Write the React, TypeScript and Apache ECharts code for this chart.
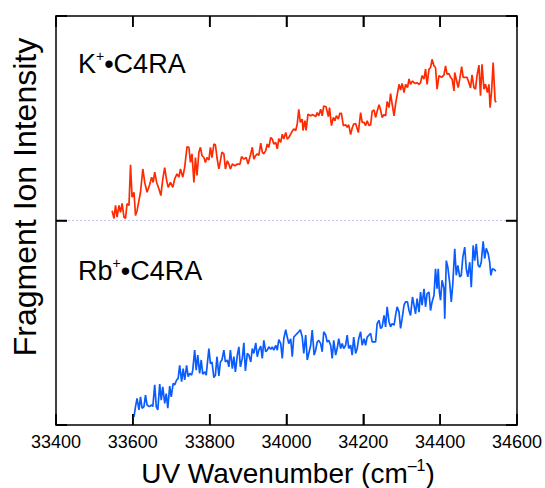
import React, { useEffect, useRef } from "react";
import * as echarts from "echarts";

// X axis range (cm^-1)
const xMin = 33400;
const xMax = 34600;
const xStep = 200;
const xTickValues = [33400, 33600, 33800, 34000, 34200, 34400, 34600];

// Upper trace: K+•C4RA (offset so its baseline sits at 50)
const kWavenumber = [
  33546, 33551, 33555, 33559, 33564, 33568, 33572, 33577, 33581, 33585,
  33590, 33594, 33598, 33603, 33607, 33611, 33616, 33620, 33626, 33631,
  33637, 33643, 33649, 33653, 33657, 33662, 33668, 33673, 33678, 33683,
  33688, 33692, 33698, 33704, 33709, 33715, 33720, 33724, 33730, 33735,
  33741, 33746, 33750, 33754, 33759, 33763, 33767, 33772, 33776, 33780,
  33785, 33789, 33793, 33798, 33802, 33806, 33811, 33815, 33819, 33824,
  33828, 33832, 33837, 33841, 33846, 33850, 33854, 33859, 33866, 33872,
  33879, 33883, 33889, 33895, 33900, 33907, 33911, 33915, 33920, 33924,
  33928, 33933, 33937, 33941, 33946, 33950, 33954, 33959, 33963, 33967,
  33972, 33976, 33980, 33985, 33989, 33993, 33998, 34002, 34006, 34013,
  34019, 34024, 34028,
  34032, 34036, 34041, 34043, 34048, 34051, 34056, 34063, 34069, 34076,
  34080, 34084, 34089, 34093, 34097, 34103, 34109, 34112, 34117, 34122,
  34126, 34130, 34135, 34139, 34143, 34148, 34154, 34158, 34162, 34167,
  34171, 34175, 34180, 34187, 34193, 34197, 34202, 34206, 34210, 34215,
  34219, 34223, 34228, 34232, 34236, 34241, 34245, 34249, 34254, 34258,
  34262, 34267, 34271, 34275, 34280, 34284, 34293, 34297, 34301, 34306,
  34310, 34315, 34319, 34323, 34328, 34332, 34336, 34340, 34345, 34349,
  34353, 34358, 34362, 34366, 34371, 34375, 34379, 34384, 34388, 34392,
  34397, 34404, 34410, 34414, 34418, 34423, 34427, 34431, 34436, 34438,
  34443, 34447, 34451, 34456, 34460, 34466, 34470, 34475, 34479, 34483,
  34488, 34492, 34496, 34501, 34505, 34509, 34514, 34518, 34523, 34527,
  34530, 34534, 34538, 34543, 34546,
];
const kIntensity = [
  52.4, 50.5, 53.7, 50.8, 53.7, 52.0, 54.2, 50.8, 50.5, 54.1,
  53.7, 63.6, 55.7, 56.9, 51.2, 52.4, 54.9, 56.9, 62.6, 59.3,
  56.9, 58.5, 60.6, 59.3, 61.8, 59.3, 57.7, 56.1, 60.2, 62.9,
  59.8, 58.1, 59.3, 58.1, 60.2, 61.4, 60.6, 62.6, 60.6, 63.0,
  68.0, 67.9, 64.2, 66.3, 59.3, 65.4, 61.0, 66.7, 67.9, 65.9,
  65.4, 64.2, 65.4, 64.8, 67.9, 65.4, 68.7, 68.5, 65.4, 62.6,
  64.6, 66.7, 66.3, 62.6, 64.6, 63.8, 62.6, 63.8, 63.4, 63.8,
  63.8, 65.6, 65.0, 65.4, 63.8, 66.3, 67.9, 65.0, 65.9, 66.3,
  65.9, 68.9, 66.7, 66.3, 67.1, 68.7, 67.9, 70.3, 69.9, 68.7,
  69.1, 67.5, 70.0, 69.1, 71.1, 69.9, 71.5, 69.9, 70.3, 71.5,
  72.4, 72.0, 73.6,
  77.2, 74.0, 74.8, 72.0, 74.4, 72.0, 76.0, 75.6, 75.9, 75.4,
  76.4, 75.6, 77.2, 75.6, 78.0, 77.8, 75.4, 77.6, 73.2, 75.2,
  74.4, 75.6, 74.8, 76.2, 76.2, 73.2, 73.4, 72.8, 73.4, 71.0,
  72.6, 73.6, 73.7, 71.5, 76.4, 74.0, 74.0, 73.2, 74.4, 73.2,
  73.4, 76.7, 77.0, 75.2, 76.7, 78.3, 77.0, 75.2, 75.9, 75.6,
  79.1, 77.6, 81.0, 78.5, 75.6, 78.5, 83.3, 81.9, 83.5, 81.3,
  83.3, 82.5, 84.6, 83.3, 84.1, 83.7, 83.5, 83.7, 83.3, 83.7,
  85.4, 84.6, 87.0, 83.3, 87.0, 87.4, 89.4, 87.8, 87.4, 82.1,
  85.4, 85.0, 85.6, 87.8, 85.8, 85.9, 85.0, 84.6, 81.7, 86.2,
  84.1, 82.5, 84.6, 87.6, 85.0, 85.0, 85.0, 83.7, 82.4, 85.6,
  82.5, 82.1, 85.4, 88.0, 80.5, 88.2, 82.1, 83.3, 81.3, 83.3,
  77.6, 81.7, 88.6, 79.3, 78.9,
];

// Lower trace: Rb+•C4RA (baseline at 0)
const rbWavenumber = [
  33599, 33603, 33607, 33611, 33616, 33620, 33624, 33629, 33633, 33637,
  33643, 33649, 33652, 33657, 33661, 33665, 33670, 33674, 33678, 33683,
  33687, 33691, 33696, 33700, 33705, 33709, 33714, 33718, 33722, 33727,
  33731, 33735, 33740, 33744, 33748, 33753, 33756, 33761, 33765, 33769,
  33774, 33778, 33782, 33787, 33791, 33798, 33802, 33806, 33811, 33815,
  33819, 33824, 33828, 33832, 33837, 33841, 33846, 33850, 33854, 33859,
  33863, 33867, 33872, 33876, 33880, 33885, 33889, 33893, 33898, 33902,
  33907, 33911, 33915, 33920, 33924, 33928, 33933, 33937, 33941, 33946,
  33950, 33954, 33959, 33963, 33967, 33972, 33976, 33980, 33985, 33989,
  33993, 33998, 34002, 34006, 34011, 34015, 34019, 34024, 34028, 34032,
  34036, 34041, 34045, 34050, 34054,
  34063, 34067, 34072, 34076, 34080, 34084, 34089, 34093, 34097, 34102,
  34106, 34110, 34115, 34119, 34123, 34128, 34132, 34136, 34141, 34145,
  34149, 34154, 34158, 34162, 34167, 34171, 34175, 34180, 34184, 34188,
  34193, 34197, 34202, 34206, 34210, 34215, 34219, 34223, 34228, 34232,
  34236, 34241, 34245, 34249, 34254, 34258, 34262, 34267, 34271, 34275,
  34280, 34284, 34288, 34293, 34297, 34301, 34306, 34310, 34315, 34319,
  34323, 34328, 34332, 34336, 34340, 34345, 34349, 34353, 34358, 34362,
  34366, 34371, 34375, 34379, 34384, 34388, 34392, 34395, 34398, 34401,
  34405, 34410, 34412, 34416, 34420, 34425, 34429, 34433, 34438, 34442,
  34446, 34451, 34455, 34459, 34464, 34468, 34472, 34477, 34481, 34486,
  34490, 34494, 34499, 34503, 34507, 34512, 34516, 34520, 34525, 34529,
  34532, 34536, 34541, 34545,
];
const rbIntensity = [
  2.4, 2.0, 4.5, 6.5, 3.7, 6.9, 4.1, 4.5, 7.3, 4.9,
  4.5, 4.9, 4.5, 9.8, 4.5, 3.7, 10.0, 6.1, 9.3, 5.3,
  7.7, 4.1, 9.5, 6.9, 10.2, 9.8, 11.0, 11.4, 14.6, 10.6,
  13.8, 11.0, 14.6, 11.8, 12.6, 12.2, 13.4, 18.3, 13.4, 17.1,
  12.6, 15.9, 12.4, 13.0, 12.2, 18.7, 15.0, 15.4, 11.6, 12.2,
  16.7, 12.0, 15.4, 15.9, 18.3, 15.4, 15.9, 14.2, 18.3, 13.8,
  16.7, 13.0, 17.1, 19.1, 14.2, 16.3, 20.1, 13.2, 17.5, 17.1,
  15.4, 18.7, 17.5, 20.1, 16.7, 18.3, 19.3, 16.3, 20.7, 17.9,
  18.3, 19.1, 18.5, 19.1, 18.3, 19.5, 18.3, 20.9, 19.9, 16.3,
  21.1, 23.3, 21.5, 19.9, 21.1, 16.7, 21.5, 22.0, 22.4, 22.8,
  23.3, 21.5, 17.5, 22.0, 15.9,
  19.5, 23.2, 17.1, 18.3, 20.3, 20.7, 19.9, 17.9, 22.8, 22.0,
  20.3, 20.7, 19.5, 16.3, 20.7, 17.1, 18.7, 21.1, 18.7, 19.9,
  18.7, 19.5, 22.0, 18.7, 19.5, 17.1, 21.5, 17.5, 18.7, 21.1,
  22.8, 19.5, 21.1, 19.5, 21.5, 22.0, 22.4, 20.3, 20.3, 20.3,
  24.8, 25.6, 23.6, 24.0, 26.8, 24.0, 28.9, 25.2, 24.0, 24.8,
  24.4, 26.8, 28.9, 27.6, 23.6, 26.0, 29.3, 30.1, 30.1, 28.0,
  26.8, 31.3, 29.3, 27.2, 30.9, 27.6, 32.5, 29.3, 33.3, 28.9,
  32.1, 32.5, 28.0, 30.1, 31.7, 38.2, 33.3, 38.2, 32.5, 30.5,
  35.4, 33.3, 26.0, 40.2, 38.6, 34.6, 30.1, 34.6, 43.1, 36.6,
  39.0, 36.2, 36.6, 41.0, 43.5, 38.2, 36.2, 39.8, 33.7, 43.9,
  40.2, 44.3, 39.0, 38.6, 39.8, 44.9, 40.7, 43.2, 41.9, 39.8,
  36.6, 38.2, 38.0, 37.6,
];

const yMin = 0;
const yMax = 100;
const yStep = 50;
const yTickValues = [0, 50, 100];
const offsetLine = 50;

const FONT = "'Liberation Sans', Arial, Helvetica, sans-serif";
const TICK_LEN = 11;

const line = () => ({ show: true, onZero: false, lineStyle: { color: "#000", width: 1.5 } });
const tick = () => ({ show: true, inside: true, length: TICK_LEN, lineStyle: { color: "#000", width: 1.5 } });

function labelText(x: number, y: number, text: string, align: string, main: number, sup: number) {
  return {
    type: "text",
    x,
    y,
    z: 50,
    style: {
      text,
      verticalAlign: "middle",
      align,
      rich: {
        m: { fontSize: main, fontFamily: FONT, fill: "#000", lineHeight: main + 3 },
        s: { fontSize: sup, fontFamily: FONT, fill: "#000", lineHeight: main - 8, verticalAlign: "top" },
      },
    },
  };
}

export default function App() {
  const ref = useRef<HTMLDivElement>(null);

  useEffect(() => {
    if (!ref.current) return;
    const chart = echarts.init(ref.current, undefined, { renderer: "svg", width: 545, height: 488 });

    const kData = kWavenumber.map((x, i) => [x, kIntensity[i]]);
    const rbData = rbWavenumber.map((x, i) => [x, rbIntensity[i]]);

    const texts: any[] = [
      labelText(78, 64, "{m|K}{s|+}{m|•C4RA}", "left", 27, 14),
      labelText(78, 270.6, "{m|Rb}{s|+}{m|•C4RA}", "left", 27, 14),
      labelText(288, 473, "{m|UV Wavenumber (cm}{s|–1}{m|)}", "center", 28, 16),
      {
        type: "text",
        x: 25,
        y: 197,
        rotation: Math.PI / 2,
        z: 50,
        style: {
          text: "Fragment Ion Intensity",
          fontSize: 32,
          fontFamily: FONT,
          fill: "#000",
          align: "center",
          verticalAlign: "middle",
        },
      },
    ];

    chart.setOption({
      animation: false,
      grid: { left: 56, right: 26, top: 16, bottom: 63 },
      xAxis: [
        {
          type: "value",
          position: "bottom",
          min: xMin,
          max: xMax,
          interval: xStep,
          axisLine: line(),
          axisTick: tick(),
          splitLine: { show: false },
          axisLabel: {
            show: true,
            color: "#000",
            fontSize: 18,
            fontFamily: FONT,
            margin: 8,
            formatter: (v: number) => String(v),
          },
        },
        {
          type: "value",
          position: "top",
          min: xMin,
          max: xMax,
          interval: xStep,
          axisLine: line(),
          axisTick: tick(),
          splitLine: { show: false },
          axisLabel: { show: false },
        },
      ],
      yAxis: [
        {
          type: "value",
          position: "left",
          min: yMin,
          max: yMax,
          interval: yStep,
          axisLine: line(),
          axisTick: tick(),
          splitLine: { show: false },
          axisLabel: { show: false },
        },
        {
          type: "value",
          position: "right",
          min: yMin,
          max: yMax,
          interval: yStep,
          axisLine: line(),
          axisTick: tick(),
          splitLine: { show: false },
          axisLabel: { show: false },
        },
      ],
      series: [
        {
          name: "K+•C4RA",
          type: "line",
          xAxisIndex: 0,
          yAxisIndex: 0,
          data: kData,
          showSymbol: false,
          lineStyle: { color: "#ff2a00", width: 1.7 },
          markLine: {
            silent: true,
            symbol: "none",
            label: { show: false },
            lineStyle: { color: "#c4c4f2", width: 1, type: [2, 2] },
            data: [{ yAxis: offsetLine }],
          },
        },
        {
          name: "Rb+•C4RA",
          type: "line",
          xAxisIndex: 0,
          yAxisIndex: 0,
          data: rbData,
          showSymbol: false,
          lineStyle: { color: "#0a5cff", width: 1.7 },
        },
      ],
      graphic: texts,
    });

    // Tick marks placed through the chart's own scales (mirrors the inside ticks on all four sides)
    const finder = { xAxisIndex: 0, yAxisIndex: 0 };
    const tickStyle = { stroke: "#000", lineWidth: 1.5 };
    const tickEls: any[] = [];
    const pb = chart.convertToPixel(finder, [xMin, yMin]) as number[];
    const pt = chart.convertToPixel(finder, [xMax, yMax]) as number[];
    if (pb && pt) {
      const yb = pb[1];
      const yt = pt[1];
      const xl = pb[0];
      const xr = pt[0];
      xTickValues.forEach((v) => {
        const p = chart.convertToPixel(finder, [v, yMin]) as number[];
        const x = p[0];
        tickEls.push({ type: "line", z: 60, silent: true, shape: { x1: x, y1: yb, x2: x, y2: yb - TICK_LEN }, style: tickStyle });
        tickEls.push({ type: "line", z: 60, silent: true, shape: { x1: x, y1: yt, x2: x, y2: yt + TICK_LEN }, style: tickStyle });
      });
      yTickValues.forEach((v) => {
        const p = chart.convertToPixel(finder, [xMin, v]) as number[];
        const y = p[1];
        tickEls.push({ type: "line", z: 60, silent: true, shape: { x1: xl, y1: y, x2: xl + TICK_LEN, y2: y }, style: tickStyle });
        tickEls.push({ type: "line", z: 60, silent: true, shape: { x1: xr, y1: y, x2: xr - TICK_LEN, y2: y }, style: tickStyle });
      });
      chart.setOption({ graphic: texts.concat(tickEls) }, { replaceMerge: ["graphic"] });
    }

    return () => chart.dispose();
  }, []);

  return (
    <div style={{ position: "fixed", left: 0, top: 0, width: 545, height: 488, background: "#fff" }}>
      <div ref={ref} style={{ position: "absolute", left: 0, top: 0, width: 545, height: 488 }} />
    </div>
  );
}
